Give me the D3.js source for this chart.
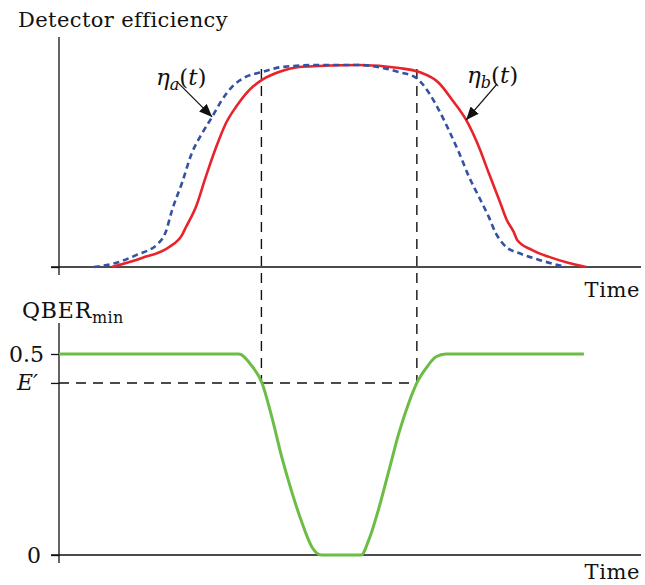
<!DOCTYPE html>
<html>
<head>
<meta charset="utf-8">
<script src="https://cdn.jsdelivr.net/npm/d3@7"></script>
<style>
  body { margin: 0; background: #fff; }
  svg { display: block; }
  text { font-family: "DejaVu Serif", serif; fill: #111; }
</style>
</head>
<body>
<svg id="chart" width="645" height="585"></svg>
<script>
// Detector efficiency of the two detectors over time: [time, efficiency]
const etaA = [
  [6.0, 0.0], [9.8, 0.020], [13.3, 0.059], [17.2, 0.119], [18.4, 0.173],
  [19.5, 0.282], [21.2, 0.416], [22.9, 0.564], [24.7, 0.663], [26.4, 0.743],
  [28.1, 0.827], [29.8, 0.891], [32.2, 0.941], [35.0, 0.965], [38.4, 0.990],
  [44.8, 1.0], [51.7, 1.0], [58.6, 0.965], [61.6, 0.936], [63.8, 0.861],
  [65.5, 0.777], [67.2, 0.678], [69.0, 0.564], [70.7, 0.446], [72.4, 0.347],
  [74.1, 0.248], [75.3, 0.168], [77.1, 0.099], [79.3, 0.069], [82.8, 0.035],
  [87.4, 0.0]
];
const etaB = [
  [9.1, 0.0], [14.3, 0.045], [19.0, 0.099], [21.2, 0.158], [21.9, 0.198],
  [23.6, 0.297], [25.3, 0.446], [27.1, 0.594], [28.8, 0.713], [30.5, 0.792],
  [32.8, 0.876], [35.0, 0.926], [37.9, 0.965], [41.4, 0.990], [44.8, 0.995],
  [51.7, 1.0], [58.6, 0.985], [62.1, 0.965], [65.5, 0.911], [67.8, 0.827],
  [70.2, 0.728], [72.4, 0.594], [74.1, 0.465], [75.9, 0.332], [77.2, 0.233],
  [78.4, 0.173], [79.0, 0.134], [81.6, 0.084], [84.5, 0.050], [87.9, 0.020],
  [90.9, 0.0]
];
// Minimum QBER over the same time window: [time, QBER]
const qberMin = [
  [0, 0.5], [31.0, 0.5], [33.1, 0.473], [35.0, 0.428], [36.7, 0.343],
  [38.4, 0.244], [40.2, 0.154], [41.9, 0.080], [43.6, 0.020], [45.2, 0.0],
  [52.1, 0.0], [53.4, 0.037], [55.2, 0.119], [56.9, 0.211], [58.6, 0.303],
  [60.3, 0.378], [61.7, 0.428], [63.3, 0.465], [65.0, 0.493], [66.7, 0.5],
  [90.5, 0.5]
];
const ePrime = 0.428;
const crossTimes = [34.9, 61.7];
const qTicks = [0.5, ePrime, 0];
const qTickLabels = ["0.5", "E′", "0"];
// Arrow annotations: label parts, time and curve they point at
const annotations = [
  { base: "η", sub: "a", curve: etaA, t: 26.4, dx: -35, dy: -35, tx: 156, ty: 85 },
  { base: "η", sub: "b", curve: etaB, t: 70.2, dx: 31, dy: -36, tx: 467, ty: 83 }
];

const svg = d3.select("#chart");
const x = d3.scaleLinear().domain([0, 100]).range([59, 639]);
const yEff = d3.scaleLinear().domain([0, 1]).range([267, 65]);
const yQ = d3.scaleLinear().domain([0, 0.5]).range([555, 354]);

svg.append("defs").append("marker")
  .attr("id", "head").attr("markerUnits", "userSpaceOnUse")
  .attr("viewBox", "0 0 12 10").attr("refX", 12).attr("refY", 5)
  .attr("markerWidth", 13).attr("markerHeight", 11).attr("orient", "auto")
  .append("path").attr("d", "M0,0 L12,5 L0,10 Z").attr("fill", "#111");

const axisColor = "#111";

// ---- top panel: axes
svg.append("line").attr("x1", x(0)).attr("x2", x(0)).attr("y1", 37).attr("y2", yEff(0) + 8)
  .attr("stroke", axisColor).attr("stroke-width", 1.3);
svg.append("line").attr("x1", x(0) - 8).attr("x2", 641).attr("y1", yEff(0)).attr("y2", yEff(0))
  .attr("stroke", axisColor).attr("stroke-width", 1.3);
svg.append("g").attr("transform", `translate(${x(0)},0)`)
  .call(d3.axisLeft(yEff).tickValues([0]).tickSize(8).tickFormat(""))
  .call(g => g.select(".domain").remove())
  .call(g => g.selectAll("line").attr("stroke", axisColor).attr("stroke-width", 1.3));

svg.append("text").attr("x", 18).attr("y", 27).attr("font-size", 21)
  .attr("letter-spacing", 0.4).text("Detector efficiency");
svg.append("text").attr("x", 640).attr("y", 297).attr("text-anchor", "end")
  .attr("font-size", 21).attr("letter-spacing", 0.6).text("Time");

// ---- bottom panel: axes
svg.append("line").attr("x1", x(0)).attr("x2", x(0)).attr("y1", 323).attr("y2", yQ(0) + 8)
  .attr("stroke", axisColor).attr("stroke-width", 1.3);
svg.append("line").attr("x1", x(0) - 8).attr("x2", 641).attr("y1", yQ(0)).attr("y2", yQ(0))
  .attr("stroke", axisColor).attr("stroke-width", 1.3);
const qAxis = svg.append("g").attr("transform", `translate(${x(0)},0)`)
  .call(d3.axisLeft(yQ).tickValues(qTicks).tickSize(8).tickPadding(7)
    .tickFormat((d, i) => qTickLabels[i]))
  .call(g => g.select(".domain").remove())
  .call(g => g.selectAll("line").attr("stroke", axisColor).attr("stroke-width", 1.3));
qAxis.selectAll("text")
  .attr("font-family", "DejaVu Serif, serif").attr("font-size", 22).attr("fill", "#111")
  .attr("dx", (d, i) => [0, -6, -3][i])
  .attr("font-style", (d, i) => i === 1 ? "italic" : null);

const qLabel = svg.append("text").attr("x", 22).attr("y", 318).attr("font-size", 22)
  .attr("letter-spacing", 0.8);
qLabel.append("tspan").text("QBER");
qLabel.append("tspan").attr("font-size", 16).attr("letter-spacing", 0.3).attr("dy", 5).text("min");
svg.append("text").attr("x", 640).attr("y", 579).attr("text-anchor", "end")
  .attr("font-size", 21).attr("letter-spacing", 0.6).text("Time");

// ---- dashed guide lines
const guide = { stroke: "#111", "stroke-width": 1.4, "stroke-dasharray": "10,7" };
crossTimes.forEach(t => {
  const l = svg.append("line").attr("x1", x(t)).attr("x2", x(t))
    .attr("y1", yEff(0.98)).attr("y2", yQ(ePrime));
  Object.entries(guide).forEach(([k, v]) => l.attr(k, v));
});
{
  const l = svg.append("line").attr("x1", x(0)).attr("x2", x(crossTimes[1]))
    .attr("y1", yQ(ePrime)).attr("y2", yQ(ePrime));
  Object.entries(guide).forEach(([k, v]) => l.attr(k, v));
}

// ---- curves
const effLine = d3.line().x(d => x(d[0])).y(d => yEff(d[1])).curve(d3.curveMonotoneX);
const qLine = d3.line().x(d => x(d[0])).y(d => yQ(d[1])).curve(d3.curveMonotoneX);

svg.append("path").datum(etaB).attr("d", effLine)
  .attr("fill", "none").attr("stroke", "#e8232b").attr("stroke-width", 2.6);
svg.append("path").datum(etaA).attr("d", effLine)
  .attr("fill", "none").attr("stroke", "#3452a4").attr("stroke-width", 2.6)
  .attr("stroke-dasharray", "6,4");
svg.append("path").datum(qberMin).attr("d", qLine)
  .attr("fill", "none").attr("stroke", "#6cbd45").attr("stroke-width", 3);

// ---- annotations
annotations.forEach(a => {
  const pt = a.curve.find(d => d[0] === a.t);
  const tipX = x(pt[0]), tipY = yEff(pt[1]);
  svg.append("line").attr("x1", tipX + a.dx).attr("y1", tipY + a.dy)
    .attr("x2", tipX).attr("y2", tipY)
    .attr("stroke", "#111").attr("stroke-width", 1.3).attr("marker-end", "url(#head)");
  const t = svg.append("text").attr("x", a.tx).attr("y", a.ty).attr("font-size", 23);
  t.append("tspan").attr("font-style", "italic").text(a.base);
  t.append("tspan").attr("font-style", "italic").attr("font-size", 16).attr("dy", 5).text(a.sub);
  t.append("tspan").attr("dy", -5).text("(");
  t.append("tspan").attr("font-style", "italic").text("t");
  t.append("tspan").text(")");
});
</script>
</body>
</html>
